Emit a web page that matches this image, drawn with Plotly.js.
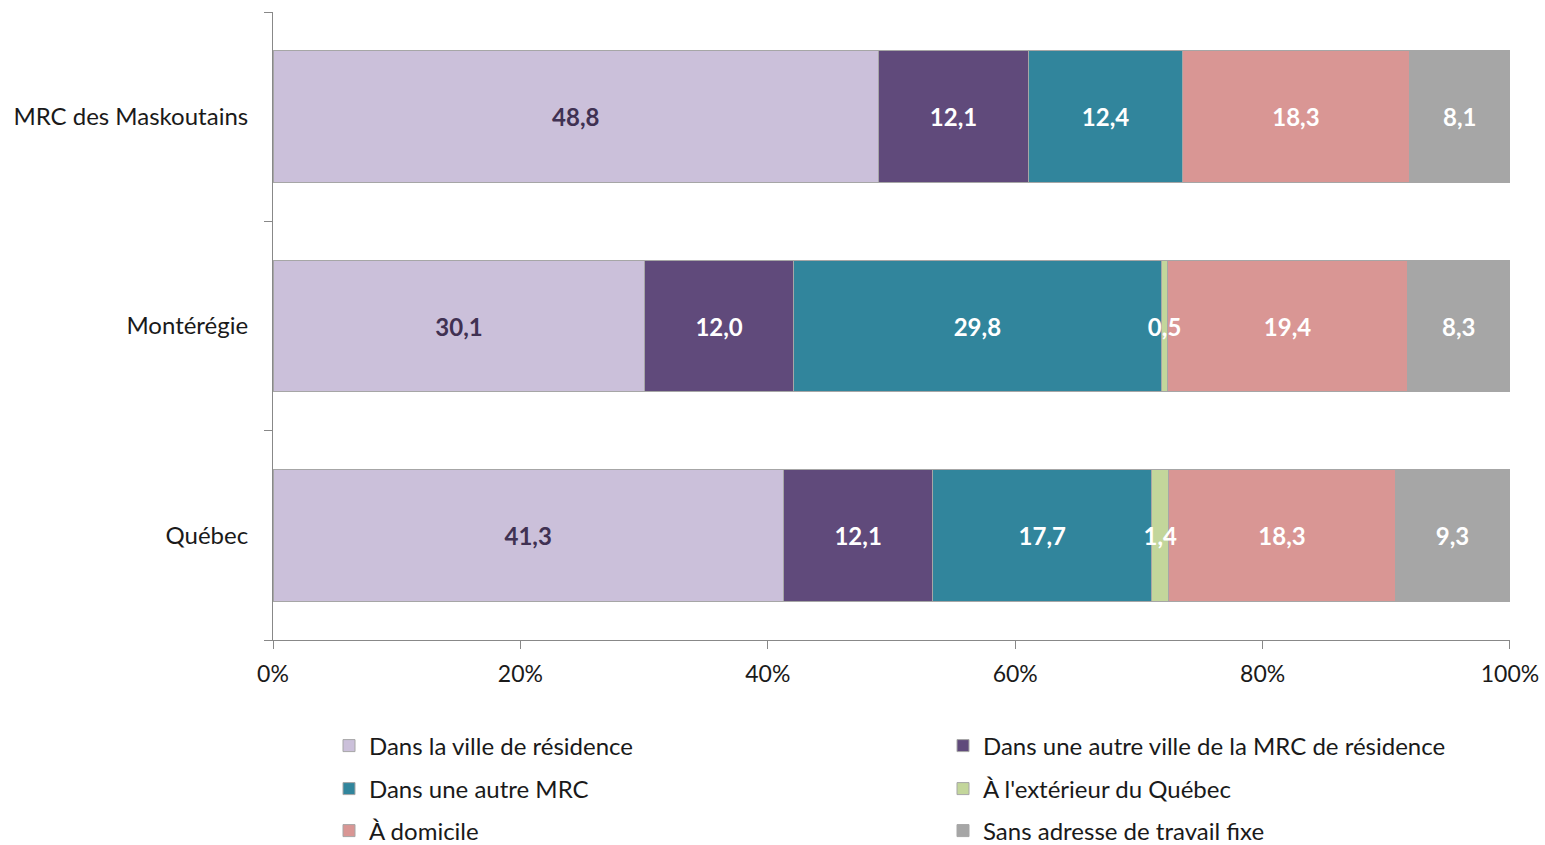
<!DOCTYPE html>
<html>
<head>
<meta charset="utf-8">
<script src="https://cdn.plot.ly/plotly-3.0.1.min.js"></script>
<style>html,body{margin:0;padding:0;background:#fff;}#chart{width:1545px;height:845px;}</style>
</head>
<body>
<div id="chart"></div>
<script>
var categories = ["Québec", "Montérégie", "MRC des Maskoutains"];
var seriesNames = [
  "Dans la ville de résidence",
  "Dans une autre ville de la MRC de résidence",
  "Dans une autre MRC",
  "À l'extérieur du Québec",
  "À domicile",
  "Sans adresse de travail fixe"
];
var villeResidence = [41.3, 30.1, 48.8];
var autreVilleMRC = [12.1, 12.0, 12.1];
var autreMRC = [17.7, 29.8, 12.4];
var exterieurQuebec = [1.4, 0.5, 0];
var domicile = [18.3, 19.4, 18.3];
var sansAdresse = [9.3, 8.3, 8.1];
var xTickVals = [0, 20, 40, 60, 80, 100];
var xTickText = ["0%", "20%", "40%", "60%", "80%", "100%"];

var colors = ["#CBC0DA", "#604A7B", "#31859C", "#C3D69B", "#D99694", "#A6A6A6"];
var textColors = ["#403152", "#FFFFFF", "#FFFFFF", "#FFFFFF", "#FFFFFF", "#FFFFFF"];
var legendIds = ["legend", "legend", "legend2", "legend2", "legend3", "legend3"];
var allSeries = [villeResidence, autreVilleMRC, autreMRC, exterieurQuebec, domicile, sansAdresse];
var FONT = "Lato, 'Open Sans', sans-serif";
var THIN = 3; // thin series whose labels overlap the neighbouring segments

function fmt(v) { return v > 0 ? v.toFixed(1).replace(".", ",") : ""; }

// 100% stacked: normalise each category's total to 100
var totals = categories.map(function (c, k) {
  return allSeries.reduce(function (s, ser) { return s + ser[k]; }, 0);
});
function norm(vals) { return vals.map(function (v, k) { return v / totals[k] * 100; }); }

var traces = allSeries.map(function (vals, i) {
  return {
    type: "bar",
    orientation: "h",
    name: seriesNames[i],
    legend: legendIds[i],
    y: categories,
    x: norm(vals),
    text: i === THIN ? vals.map(function () { return ""; }) : vals.map(fmt),
    texttemplate: "<b>%{text}</b>",
    textposition: "inside",
    insidetextanchor: "middle",
    textangle: 0,
    constraintext: "none",
    cliponaxis: false,
    textfont: { family: FONT, size: 24, color: textColors[i] },
    marker: { color: colors[i], line: { color: "#A6A6A6", width: 1 } },
    customdata: vals,
    hovertemplate: "%{y}<br>" + seriesNames[i] + " : %{customdata}<extra></extra>"
  };
});

// Labels of the thin series: transparent copy of its segments on an overlaid axis (drawn on top)
var thinBase = categories.map(function (c, k) {
  var before = 0;
  for (var i = 0; i < THIN; i++) before += allSeries[i][k];
  return before / totals[k] * 100;
});
traces.push({
  type: "bar",
  orientation: "h",
  yaxis: "y2",
  y: categories,
  x: norm(exterieurQuebec),
  base: thinBase,
  text: exterieurQuebec.map(fmt),
  texttemplate: "<b>%{text}</b>",
  textposition: "inside",
  insidetextanchor: "middle",
  textangle: 0,
  constraintext: "none",
  cliponaxis: false,
  textfont: { family: FONT, size: 24, color: "#FFFFFF" },
  marker: { color: "rgba(0,0,0,0)", line: { width: 0 } },
  showlegend: false,
  hoverinfo: "skip"
});

function legendAt(yPx) {
  return {
    orientation: "h",
    xref: "container",
    yref: "container",
    x: 329 / 1545,
    xanchor: "left",
    y: 1 - yPx / 845,
    yanchor: "middle",
    traceorder: "normal",
    entrywidth: 569,
    entrywidthmode: "pixels",
    font: { family: FONT, size: 24, color: "#1a1a1a" },
    itemclick: false,
    itemdoubleclick: false
  };
}

var layout = {
  width: 1545,
  height: 845,
  barmode: "stack",
  bargap: 0.37,
  paper_bgcolor: "#FFFFFF",
  plot_bgcolor: "#FFFFFF",
  margin: { l: 273, r: 35, t: 12, b: 205, autoexpand: false },
  font: { family: FONT, size: 22, color: "#1a1a1a" },
  showlegend: true,
  xaxis: {
    range: [0, 100.0005],
    tickvals: xTickVals,
    ticktext: xTickText,
    ticks: "outside",
    ticklen: 8,
    tickcolor: "#888888",
    showline: true,
    linecolor: "#888888",
    linewidth: 1,
    showgrid: false,
    zeroline: false,
    ticklabelstandoff: 5,
    tickfont: { family: FONT, size: 23, color: "#1a1a1a" },
    fixedrange: true
  },
  yaxis: {
    type: "category",
    categoryorder: "array",
    categoryarray: categories,
    tickson: "boundaries",
    ticks: "outside",
    ticklen: 8,
    tickcolor: "#888888",
    showline: true,
    linecolor: "#888888",
    linewidth: 1,
    showgrid: false,
    zeroline: false,
    ticklabelstandoff: 19,
    tickfont: { family: FONT, size: 24, color: "#1a1a1a" },
    fixedrange: true
  },
  yaxis2: {
    type: "category",
    categoryorder: "array",
    categoryarray: categories,
    overlaying: "y",
    matches: "y",
    visible: false,
    showgrid: false,
    zeroline: false,
    fixedrange: true
  },
  legend: legendAt(746),
  legend2: legendAt(789),
  legend3: legendAt(831)
};

Plotly.newPlot("chart", traces, layout, { displayModeBar: false });
</script>
</body>
</html>
